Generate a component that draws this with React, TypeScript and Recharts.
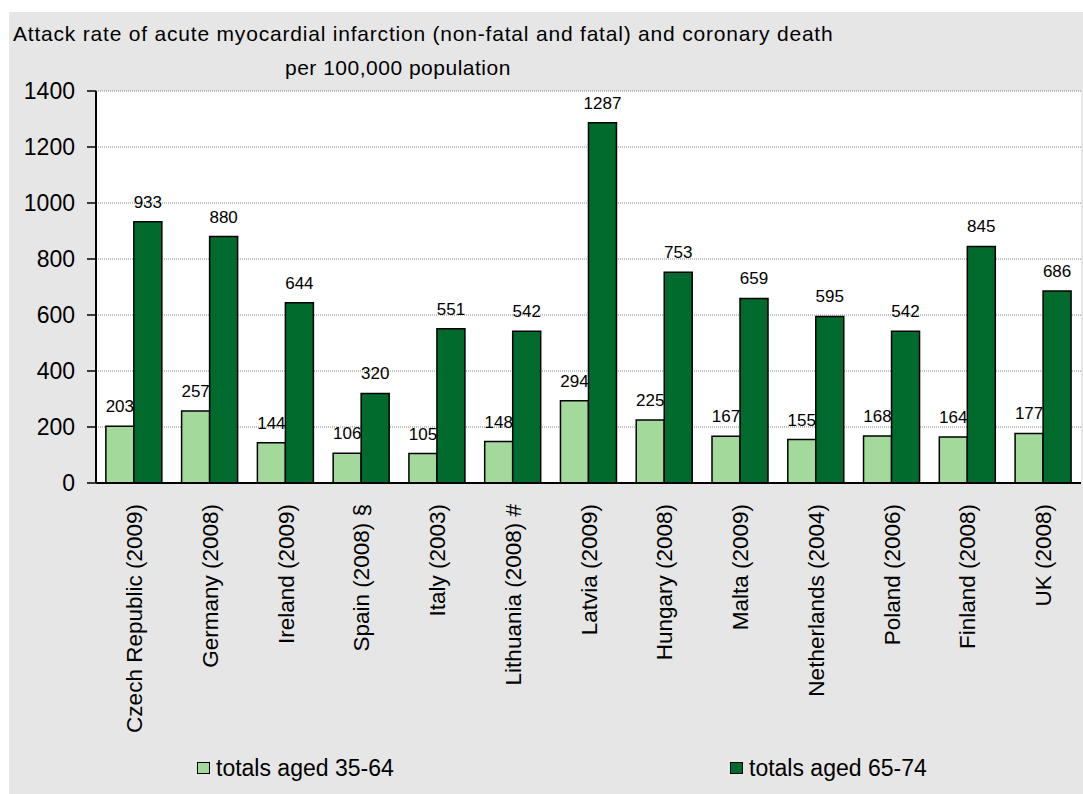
import React from 'react';
import { BarChart, Bar, XAxis, YAxis, CartesianGrid, LabelList, Legend } from 'recharts';

const categories = [
  'Czech Republic (2009)',
  'Germany (2008)',
  'Ireland (2009)',
  'Spain (2008) §',
  'Italy (2003)',
  'Lithuania (2008) #',
  'Latvia (2009)',
  'Hungary (2008)',
  'Malta (2009)',
  'Netherlands (2004)',
  'Poland (2006)',
  'Finland (2008)',
  'UK (2008)',
];
const aged3564 = [203, 257, 144, 106, 105, 148, 294, 225, 167, 155, 168, 164, 177];
const aged6574 = [933, 880, 644, 320, 551, 542, 1287, 753, 659, 595, 542, 845, 686];
const yTicks = [0, 200, 400, 600, 800, 1000, 1200, 1400];
const seriesNames = ['totals aged 35-64', 'totals aged 65-74'];

const data = categories.map((name, i) => ({ name, a: aged3564[i], b: aged6574[i] }));

const FONT = '"Liberation Sans", Arial, sans-serif';
const LIGHT = '#a3d99b';
const DARK = '#006b2d';

const XTick = (props: any) => {
  const { x, y, payload } = props;
  return (
    <g transform={`translate(${x},${y})`}>
      <text
        transform="rotate(-90)"
        x={-19}
        y={0}
        dy="0.36em"
        textAnchor="end"
        fontSize={22.5}
        fill="#000"
        fontFamily={FONT}
      >
        {payload.value}
      </text>
    </g>
  );
};

const legendPos = [188, 721];

const renderLegend = (props: any) => {
  const { payload } = props;
  return (
    <div style={{ position: 'relative', width: 1074, height: 40, fontFamily: FONT }}>
      {(payload || []).map((entry: any, i: number) => (
        <div key={i} style={{ position: 'absolute', left: legendPos[i], top: 0, height: 28, display: 'flex', alignItems: 'center' }}>
          <span
            style={{
              display: 'inline-block',
              width: 11,
              height: 10,
              background: entry.color,
              border: '1.5px solid #000',
              marginRight: 6,
            }}
          />
          <span style={{ fontSize: 23, color: '#000', lineHeight: '28px' }}>{entry.value}</span>
        </div>
      ))}
    </div>
  );
};

export default function App() {
  return (
    <div style={{ position: 'absolute', left: 0, top: 0, width: 1083, height: 794, background: '#fff', overflow: 'hidden' }}>
      <div style={{ position: 'absolute', left: 9, top: 12, width: 1074, height: 782, background: '#e6e6e6' }}>
        <div
          style={{
            position: 'absolute',
            left: 4,
            top: 9,
            fontFamily: FONT,
            fontSize: 21,
            letterSpacing: 0.8,
            whiteSpace: 'nowrap',
            color: '#000',
            lineHeight: '26px',
          }}
        >
          Attack rate of acute myocardial infarction (non-fatal and fatal) and coronary death
        </div>
        <div
          style={{
            position: 'absolute',
            left: 276,
            top: 43,
            fontFamily: FONT,
            fontSize: 21,
            letterSpacing: 0.5,
            whiteSpace: 'nowrap',
            color: '#000',
            lineHeight: '26px',
          }}
        >
          per 100,000 population
        </div>
        <BarChart
          width={1074}
          height={782}
          data={data}
          margin={{ top: 79, right: 2, bottom: 0, left: 0 }}
          barCategoryGap="13%"
          barGap={0}
          style={{ position: 'absolute', left: 0, top: 0 }}
        >
          <CartesianGrid vertical={false} stroke="#8a8a8a" strokeDasharray="1 1" fill="#fff" />
          <XAxis
            dataKey="name"
            interval={0}
            height={271}
            tickLine={false}
            tickSize={0}
            tick={<XTick />}
            axisLine={{ stroke: '#000', strokeWidth: 2 }}
          />
          <XAxis
            xAxisId="top"
            dataKey="name"
            orientation="top"
            height={0}
            tick={false}
            tickLine={false}
            axisLine={{ stroke: '#000', strokeWidth: 2 }}
          />
          <YAxis
            width={87}
            domain={[0, 1400]}
            ticks={yTicks}
            interval={0}
            tickSize={9}
            tickMargin={12}
            tickLine={{ stroke: '#000', strokeWidth: 1.5 }}
            axisLine={{ stroke: '#000', strokeWidth: 2 }}
            tick={{ fontSize: 23, fill: '#000', fontFamily: FONT }}
          />
          <YAxis
            yAxisId="right"
            orientation="right"
            width={0}
            domain={[0, 1400]}
            tick={false}
            tickLine={false}
            axisLine={{ stroke: '#000', strokeWidth: 2 }}
          />
          <Legend verticalAlign="bottom" content={renderLegend} wrapperStyle={{ left: 0, width: 1074 }} />
          <Bar dataKey="a" name={seriesNames[0]} fill={LIGHT} stroke="#000" strokeWidth={1.5} isAnimationActive={false}>
            <LabelList dataKey="a" position="top" offset={14} fontSize={17} fill="#000" fontFamily={FONT} />
          </Bar>
          <Bar dataKey="b" name={seriesNames[1]} fill={DARK} stroke="#000" strokeWidth={1.5} isAnimationActive={false}>
            <LabelList dataKey="b" position="top" offset={14} fontSize={17} fill="#000" fontFamily={FONT} />
          </Bar>
        </BarChart>
      </div>
    </div>
  );
}
